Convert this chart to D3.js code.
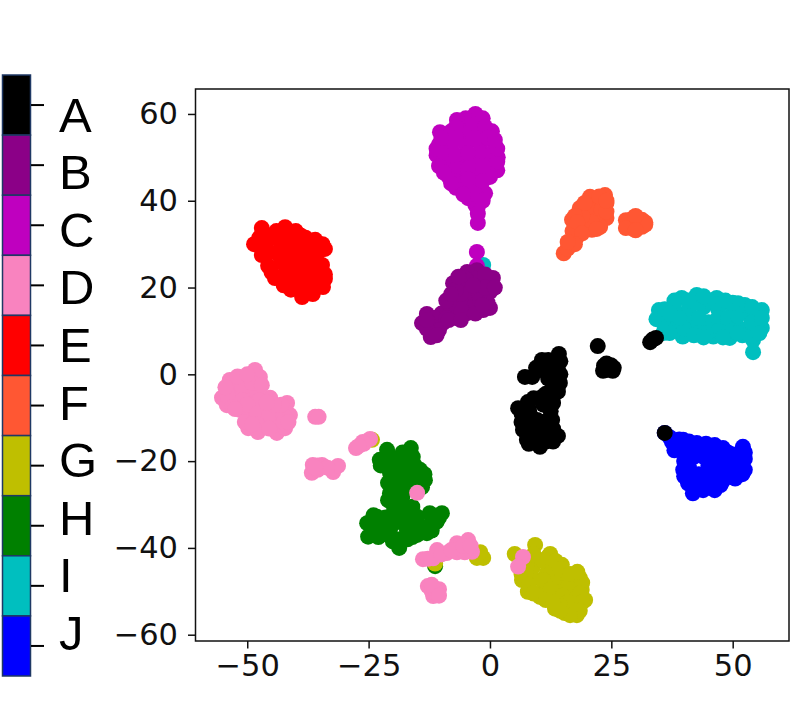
<!DOCTYPE html>
<html>
<head>
<meta charset="utf-8">
<script src="https://cdn.jsdelivr.net/npm/d3@7"></script>
<style>
  html, body { margin: 0; padding: 0; background: #fff; }
  svg { display: block; }
  .axis text { font-family: "DejaVu Sans", sans-serif; font-size: 30.5px; fill: #111; }
  .axis line { stroke: #111; stroke-width: 1.5; }
  .legend-label { font-family: "Liberation Sans", Arial, sans-serif; font-size: 49px; fill: #000; }
</style>
</head>
<body>
<div id="chart"></div>
<script>
var categories = ["A", "B", "C", "D", "E", "F", "G", "H", "I", "J"];
var colors = ["#000000", "#8b0087", "#bf00bf", "#f983bf", "#ff0000", "#ff5733", "#bfbf00", "#008000", "#00bfbf", "#0000ff"];
var xTicks = [-50, -25, 0, 25, 50];
var yTicks = [-60, -40, -20, 0, 20, 40, 60];

var pointsA = [[22.2,6.5],[23.3,0.8],[24.9,2.1],[25.3,0.8],[24,1],[23.5,2],[24,2.5],[25.5,1.5],[33,7.4],[34.2,8.4],[33.5,8],[36,-13.5],[14.2,4.7],[10.7,3.3],[12,3.3],[7.2,-0.6],[8.7,-0.6],[10.3,1],[14,1],[12.8,0.3],[14.4,-2],[13,-3.2],[10.7,-5.2],[13,-6.6],[7.8,-6.4],[5.8,-7.8],[7.2,-10],[12.8,-10.5],[14,-14.2],[10.3,-16.7],[7.6,-15.1],[6.8,-12.8],[8.9,-12.8],[10.9,-13.5],[9.7,-10.5],[8.2,-9],[12,-12],[12,-1],[12,2],[9.5,1.5],[13,-5],[11.5,-4.5],[11,-7],[12.5,-8.5],[9,-5.5],[9,-12],[11,-11],[9,-15],[11.5,-15.5],[8,-11.5],[14.5,0],[14.5,3],[13,-1.5],[8,-8],[6.5,-9],[6.5,-11],[8,-13.5],[8,-16],[13,-15.5],[13,-12.5],[14,-4]];
var pointsB = [[-12.2,8.6],[-14,11.8],[-13,13.9],[-11,11],[-9.7,11.8],[-10,14],[-8,15],[-7,13],[-5.5,17],[-4.7,14.1],[-3,16],[-1.4,14.8],[0,15.3],[-1,18],[0,19],[0.6,22.2],[-2,21],[-2.7,24],[-4.7,23.6],[-7.6,21],[-6,20],[-7,18],[-4,19],[-11.5,13],[-2.5,19],[-9,13],[-6,15],[-12,11],[-10.5,10.2],[-6,18.5],[-3,22],[-1,23],[-5,22],[-2,17],[-0.5,16.5],[-8.5,16.5],[-7,19.5],[-1,20],[-3.5,20.5],[-13,10.5],[-9,17],[-13,12.5],[-11,9],[-8.5,12.5],[-6,12.5],[-8,18.5],[-6.5,22.5],[-3,14],[-1.5,16],[1,20]];
var pointsC = [[-3,60],[-5,59],[-1.5,59],[-6.8,58.6],[-10.3,55.8],[-8,56],[-5,56],[-2,56.5],[0.4,56],[-11,50.5],[-10.5,53],[-8,52],[-5,53],[-2,53],[1,53],[1.6,50],[-9,48],[-6,49],[-3,50],[0,49],[1.5,47],[-8.5,45.5],[-6,45],[-3,46],[0,45.5],[-7,43],[-4.5,43],[-2,43],[-1,41.7],[-4.5,40.6],[-3,39],[-2.5,38.6],[-2.5,34.9],[-2.5,37],[-2.7,28.2],[-2.7,25],[-7,57],[-3.5,57.5],[-1,57],[-9,54.5],[-7,54.5],[-3.5,54.5],[-0.5,54.5],[-9.5,50.5],[-7,50.5],[-4.5,51],[-1.5,51],[0.5,51],[-7.5,47],[-4.5,47.5],[-1.5,48],[-7.5,44.5],[-4.5,45],[-1.5,44.5],[-3,41.5],[-5.5,41.5],[-1.5,40],[-10.5,48],[-9.5,46.5],[-8,44],[1.5,49],[1.5,52],[1,54],[-11,52],[-10,54.5]];
var pointsD = [[-48.4,1],[-53.6,-1.3],[-55.2,-5.4],[-54.2,-7.1],[-51.5,-8.2],[-49.8,-12.4],[-47.8,-13.3],[-43.9,-13.5],[-42.2,-12.4],[-41.2,-9.4],[-41.8,-6.6],[-45.3,-5.4],[-47.4,-0.6],[-50.9,-1.3],[-52.9,-3.6],[-50,-4.3],[-48,-4],[-52,-6],[-49.4,-7.5],[-46.8,-7.5],[-43.9,-8.9],[-46.8,-11.2],[-49.4,-9.6],[-44,-11],[-53,-2],[-51,-3],[-49,-2],[-47,-2.5],[-54,-5],[-51,-6],[-53,-7.5],[-47.5,-6],[-50,-7],[-48,-9],[-45.5,-9.5],[-42.5,-9.5],[-43,-7],[-48,-11.5],[-45.5,-12.5],[-42.5,-11],[-44.5,-7],[-46,-6.5],[-54.5,-3],[-52,-0.5],[-50,0],[-52.5,-8],[-50.5,-11],[-49,-11.5],[-41.5,-11],[-36,-9.8],[-35.3,-9.8],[-24.7,-14.9],[-26.2,-15.6],[-27.6,-17],[-26,-16],[-27,-16.5],[-36.7,-22.7],[-36.5,-20.9],[-34.6,-20.9],[-32.3,-22.5],[-31.3,-21.1],[-35.5,-21],[-35.5,-22],[-33.5,-21.5],[-36,-21.5],[-15,-27.3],[-13.8,-42.6],[-11.7,-42.4],[-10.9,-40.5],[-8.9,-41.2],[-6.8,-38.9],[-6.8,-41],[-4.5,-38.2],[-3.7,-40.9],[-5.2,-41],[-12.8,-42.5],[-10,-41.5],[-8,-40.5],[-5.5,-39.5],[-4,-39.5],[-12.8,-48.8],[-10.5,-49.5],[-11.7,-51.1],[-12,-50],[-11.5,-49.5],[-11,-50.5],[-12,-48.5],[-10.5,-51],[6.8,-42.1],[5.8,-44.3]];
var pointsE = [[-47,33.7],[-44,33],[-42.2,33.9],[-40,33],[-48.6,30],[-46,30.5],[-43,30],[-40,30],[-37,29],[-34,28.9],[-45.7,25],[-43,26],[-40,26],[-37,26],[-34.6,25.2],[-44.3,22.2],[-41.5,22],[-38,22],[-35,21],[-34.4,20.1],[-41,19.5],[-38.7,17.8],[-37,20],[-46,28],[-36,27.5],[-38,31.5],[-46,32],[-44,31.5],[-42,32],[-39,32],[-44,28],[-42,28],[-40,28],[-38,28],[-35.5,28],[-42,24],[-40,24],[-38,24],[-36,24],[-39.5,21],[-36,22.5],[-39,19.5],[-47,27.5],[-47.5,31.5],[-42.5,20.5],[-45,23.5],[-36,31],[-34.5,30],[-34,23],[-34,22],[-36.5,18.5],[-46.5,29.5]];
var pointsF = [[15.2,27.9],[16.5,30.2],[16.9,35.6],[18.5,38.3],[20.6,40.9],[23.7,41.3],[24,39.5],[24,36],[22.7,34],[21,33.3],[17.9,31.6],[20,36],[22,37],[22,39],[19,34],[18,33.5],[17,33],[20,38.5],[21,35],[23,38],[19,36.5],[16,29],[22.5,41],[19.5,39.5],[17.5,36.5],[18,35],[24,37.5],[24,40],[19,32.5],[22,33.5],[17.5,30],[16,30.5],[28.2,34.4],[31.3,35.6],[29.5,36],[29.5,33.5],[31.3,34],[30.4,35],[28.8,35.5],[30,34.5],[28,35.5],[28,33.7],[32,35],[32,34.5],[30,36.5],[30,33.2]];
var pointsG = [[5.1,-41.4],[9.3,-39.3],[12.4,-41.4],[14.8,-43.9],[18.5,-46.9],[18.9,-49.7],[19.6,-52],[17.9,-55.5],[15.4,-55],[13.4,-54],[10.3,-51.3],[7.8,-50.1],[6.6,-47.4],[8.9,-44.3],[11.7,-45.8],[14.4,-48.2],[17.1,-51.3],[16.5,-54.3],[10.9,-49.7],[13.8,-51.3],[10.3,-42.8],[7.6,-44.3],[17.1,-48.1],[9,-41.5],[11,-43],[13,-44.5],[13,-47],[15.5,-46],[16,-49],[9,-47],[7.5,-46.5],[11,-47.5],[12.5,-49.5],[15,-51],[18,-53],[16,-52.5],[14.5,-53.5],[19,-48],[6.5,-44],[6.5,-46],[8,-48.5],[9,-50.5],[11.5,-52],[13,-52.5],[12,-42],[13.5,-43],[14.5,-45],[16.5,-46],[18,-45.5],[18.5,-50.5],[19,-52.5],[18.5,-54.5],[16.5,-55.5],[14.5,-54.5],[-1.4,-42.3],[-2.7,-42.3],[-2,-41],[-24.3,-15.1],[-11.3,-43.6]];
var pointsH = [[-21.2,-17.4],[-22.7,-19.7],[-16.3,-17],[-15.9,-19],[-20.6,-22.7],[-13.4,-24.4],[-14.4,-22],[-20.6,-27.4],[-25.3,-34.3],[-25.1,-37.4],[-18.7,-40],[-13,-36.6],[-9.9,-32],[-23.3,-32.8],[-18.5,-25],[-17.9,-20.5],[-19,-20],[-20.6,-32.8],[-17.9,-32.8],[-15,-32.8],[-12.4,-32],[-19.2,-29],[-20.6,-35.9],[-17.1,-35.9],[-22.7,-35.9],[-14.4,-35.2],[-18.5,-38],[-18,-31],[-16.5,-23.6],[-15,-25],[-20.5,-19],[-18,-18],[-19,-23],[-17,-26],[-20,-30],[-18,-28],[-16,-30.5],[-21.5,-33],[-24,-35],[-23,-37.5],[-19,-34],[-16,-34],[-12,-34],[-10.5,-33],[-15,-37],[-24,-32.5],[-17,-21],[-15.5,-21],[-14,-26],[-23,-34.5],[-21,-37],[-17,-38],[-20,-38.5],[-12,-36],[-11,-34],[-16,-37.5],[-22.5,-21],[-21,-21],[-15,-23],[-13.5,-23],[-19,-26],[-21,-29],[-21,-25],[-11.3,-44.2]];
var pointsI = [[34.8,14.8],[34.3,12.7],[35.7,9.5],[39.7,8.7],[39.5,17.6],[42.6,18.3],[46.7,17.6],[51.1,16.4],[56,14.8],[56,10.7],[54.2,5.1],[54.2,7.9],[49.4,8.4],[46,8.7],[43.3,10.2],[37.5,12],[38,15],[41,15],[44,15.5],[47,15],[50,14],[53,14],[41,11.5],[45,12],[48,11.5],[51,11],[53.5,11],[36,13],[36,10.5],[38,10],[40,10.5],[39,13],[43,13],[47,13],[49,13],[51,13.5],[52.5,16],[48,16.5],[45,17],[43,16.5],[41,17],[55,13],[52,9],[50,10],[47,10],[44.5,9.5],[54,9],[36,15],[38,17],[37,14],[54,15.5],[55.5,12.5],[54,12],[50,16.5],[48.5,17],[44,18],[37,9.5],[42,9],[44,8.5],[51,9.5],[48,8.5],[55.5,9.5],[56,13],[-1.4,25.2]];
var pointsJ = [[36,-13.5],[37.5,-15.6],[39.1,-17.4],[39.8,-15.1],[42.6,-15.8],[46.3,-16.3],[52.1,-16.7],[52.5,-22],[52.5,-19.5],[50,-23.2],[46.3,-26.7],[43.9,-26.7],[41.8,-27.4],[40.8,-25.1],[39.8,-22],[42,-19],[45,-19],[48,-19],[50,-18.5],[43,-23],[46,-23],[48.5,-21.5],[48,-24.5],[41,-16.5],[44,-17],[47,-17.5],[49,-18],[51,-19],[38.5,-16.5],[40.5,-19],[41,-21.5],[45,-21],[47,-21],[50,-21],[42,-24.5],[44.5,-25],[49,-23],[51,-21.5],[44,-19],[37,-14.5],[52.5,-18],[52,-23],[50.5,-24],[46,-25.5],[47.5,-25.5],[40,-23.5],[40,-20],[38,-17.5],[39,-15],[41,-15.5],[44.5,-16],[48,-17]];
var clusters = [pointsA, pointsB, pointsC, pointsD, pointsE, pointsF, pointsG, pointsH, pointsI, pointsJ];

var svg = d3.select("#chart").append("svg")
    .attr("width", 804)
    .attr("height", 720);

// scatter panel
var left = 195.5, right = 789, top_ = 89, bottom = 641;
var x = d3.scaleLinear().domain([-60.66, 61.6]).range([left, right]);
var y = d3.scaleLinear().domain([-61.45, 65.75]).range([bottom, top_]);

// later classes go underneath, A ends up on top
var groups = svg.selectAll("g.cluster")
    .data(clusters.map(function(d, i) { return {points: d, color: colors[i]}; }).reverse())
  .enter().append("g")
    .classed("cluster", true)
    .attr("fill", function(d) { return d.color; });

groups.selectAll("circle")
    .data(function(d) { return d.points; })
  .enter().append("circle")
    .attr("cx", function(d) { return x(d[0]); })
    .attr("cy", function(d) { return y(d[1]); })
    .attr("r", 8);

svg.append("rect")
    .attr("x", left)
    .attr("y", top_)
    .attr("width", right - left)
    .attr("height", bottom - top_)
    .attr("fill", "none")
    .attr("stroke", "#111")
    .attr("stroke-width", 1.5);

var xAxis = svg.append("g")
    .classed("axis", true)
    .attr("transform", "translate(0," + bottom + ")")
    .call(d3.axisBottom(x).tickValues(xTicks).tickSize(7.5).tickPadding(6));
xAxis.select(".domain").remove();

var yAxis = svg.append("g")
    .classed("axis", true)
    .attr("transform", "translate(" + left + ",0)")
    .call(d3.axisLeft(y).tickValues(yTicks).tickSize(7.5).tickPadding(10));
yAxis.select(".domain").remove();

// colour key on the left
var band = d3.scaleBand().domain(categories).range([75, 676]);
var labelY = d3.scalePoint().domain(categories).range([131.5, 650]);

svg.selectAll("rect.key")
    .data(categories)
  .enter().append("rect")
    .classed("key", true)
    .attr("x", 2.5)
    .attr("y", function(d) { return band(d); })
    .attr("width", 28)
    .attr("height", band.bandwidth())
    .attr("fill", function(d, i) { return colors[i]; })
    .attr("stroke", "#1f3864")
    .attr("stroke-width", 1.5);

svg.selectAll("line.key-tick")
    .data(categories)
  .enter().append("line")
    .classed("key-tick", true)
    .attr("x1", 31)
    .attr("x2", 44)
    .attr("y1", function(d) { return band(d) + band.bandwidth() / 2; })
    .attr("y2", function(d) { return band(d) + band.bandwidth() / 2; })
    .attr("stroke", "#000")
    .attr("stroke-width", 2);

svg.selectAll("text.legend-label")
    .data(categories)
  .enter().append("text")
    .classed("legend-label", true)
    .attr("x", 59)
    .attr("y", function(d) { return labelY(d); })
    .text(function(d) { return d; });
</script>
</body>
</html>
